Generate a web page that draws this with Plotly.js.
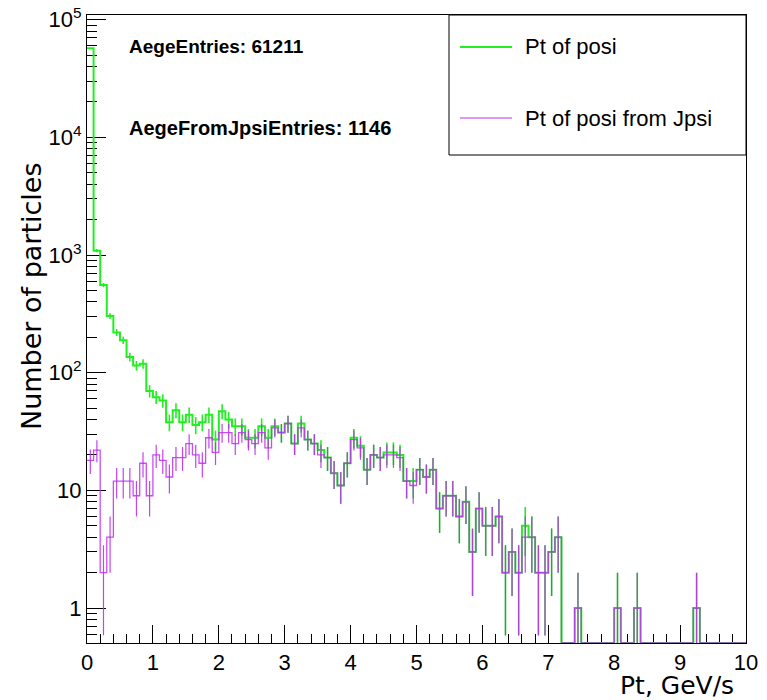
<!DOCTYPE html>
<html>
<head>
<meta charset="utf-8">
<script src="https://cdn.plot.ly/plotly-3.0.1.min.js"></script>
<style>
  html, body { margin: 0; padding: 0; background: #ffffff; }
  #chart { width: 767px; height: 700px; }
</style>
</head>
<body>
<div id="chart"></div>
<script>
// ---- histogram binning (Pt, GeV/s) ----
const xLow = 0;
const xHigh = 10;
const nBins = 100;

// ---- counts per 0.1 GeV/s bin ----
const ptPosi = [
  57070, 1090, 556, 303, 220, 189, 136, 115, 119, 70,
  62, 58, 38, 48, 38, 44, 36, 38, 44, 27,
  47, 40, 35, 35, 28, 28, 35, 28, 35, 31,
  37, 25, 37, 27, 25, 22, 19, 14, 11, 17,
  28, 24, 15, 20, 19, 21, 21, 20, 12, 12,
  15, 13, 15, 7, 9, 9, 6, 8, 3, 7,
  5, 5, 6, 2, 3, 2, 5, 4, 2, 2,
  3, 4, 0, 0, 1, 0, 0, 0, 0, 0,
  1, 0, 0, 1, 0, 0, 0, 0, 0, 0,
  0, 0, 1, 0, 0, 0, 0, 0, 0, 0
];
const ptPosiFromJpsi = [
  18, 22, 2, 4, 12, 12, 12, 9, 17, 9,
  20, 18, 13, 19, 19, 25, 20, 17, 28, 21,
  31, 31, 25, 31, 27, 25, 31, 23, 34, 31,
  37, 25, 34, 27, 25, 20, 19, 14, 11, 17,
  27, 23, 15, 20, 19, 20, 20, 19, 12, 11,
  15, 13, 15, 7, 9, 9, 6, 8, 3, 7,
  5, 5, 6, 2, 3, 2, 4, 4, 2, 2,
  3, 4, 0, 0, 1, 0, 0, 0, 0, 0,
  1, 0, 0, 1, 0, 0, 0, 0, 0, 0,
  0, 0, 1, 0, 0, 0, 0, 0, 0, 0
];
const seriesNames = ["Pt of posi", "Pt of posi from Jpsi"];
const statLabels = ["AegeEntries: 61211", "AegeFromJpsiEntries: 1146"];
const yTickVals = [1, 10, 100, 1000, 10000, 100000];
const yTickText = ["1", "10", "10<sup>2</sup>", "10<sup>3</sup>", "10<sup>4</sup>", "10<sup>5</sup>"];
const xTickVals = [0, 1, 2, 3, 4, 5, 6, 7, 8, 9, 10];

// ---- style ----
const GREEN = "#22ee22";
const MAGENTA = "#bf2ff0";
const FONT = "Liberation Sans, Arial, Helvetica, sans-serif";
const yRangeLog = [-0.297, 5.04];
const yFloor = Math.pow(10, yRangeLog[0]);

// derived geometry from binning
const bw = (xHigh - xLow) / nBins;
const edges = [];
for (let i = 0; i <= nBins; i++) edges.push(+(xLow + i * bw).toFixed(6));
const centers = [];
for (let i = 0; i < nBins; i++) centers.push(+(xLow + (i + 0.5) * bw).toFixed(6));

function stepY(counts) {
  const ys = counts.map(v => (v > 0 ? v : yFloor));
  ys.push(ys[ys.length - 1]);
  return ys;
}
function errPts(counts) {
  return counts.map(v => (v > 0 ? v : null));
}
function errArr(counts) {
  return counts.map(v => Math.sqrt(v));
}

const traces = [
  {
    x: edges, y: stepY(ptPosi), type: "scatter", mode: "lines",
    line: { shape: "hv", color: GREEN, width: 2 }, name: seriesNames[0],
    hoverinfo: "skip"
  },
  {
    x: centers, y: errPts(ptPosi), type: "scatter", mode: "markers",
    marker: { size: 1, color: GREEN },
    error_y: { type: "data", array: errArr(ptPosi), visible: true, width: 0, thickness: 1.6, color: GREEN },
    showlegend: false, hoverinfo: "skip"
  },
  {
    x: edges, y: stepY(ptPosiFromJpsi), type: "scatter", mode: "lines",
    line: { shape: "hv", color: MAGENTA, width: 1.3 }, opacity: 0.85, name: seriesNames[1],
    hoverinfo: "skip"
  },
  {
    x: centers, y: errPts(ptPosiFromJpsi), type: "scatter", mode: "markers",
    marker: { size: 1, color: MAGENTA }, opacity: 0.9,
    error_y: { type: "data", array: errArr(ptPosiFromJpsi), visible: true, width: 0, thickness: 1.2, color: MAGENTA },
    showlegend: false, hoverinfo: "skip"
  }
];

// minor tick positions
const yMinor = [];
for (let d = -1; d <= 4; d++) {
  for (let k = 2; k <= 9; k++) {
    const v = k * Math.pow(10, d);
    if (Math.log10(v) > yRangeLog[0] && Math.log10(v) < yRangeLog[1]) yMinor.push(+v.toPrecision(3));
  }
}
const xMinor = [];
for (let i = 0; i <= 50; i++) {
  const v = +(i * 0.2).toFixed(4);
  if (Math.abs(v - Math.round(v)) > 1e-6) xMinor.push(v);
}

// pixel helpers for decorations (plot area 87..746 x 15..643)
const L = 87, R = 746, T = 15, B = 643;
const px = p => (p - L) / (R - L);
const py = p => (B - p) / (B - T);

const layout = {
  width: 767, height: 700,
  margin: { l: L, r: 767 - R, t: T, b: 700 - B, pad: 0 },
  paper_bgcolor: "#ffffff", plot_bgcolor: "#ffffff",
  showlegend: false,
  font: { family: FONT, color: "#000000", size: 22 },
  xaxis: {
    type: "linear", range: [xLow, xHigh], autorange: false,
    showgrid: false, zeroline: false,
    showline: true, linecolor: "#000000", linewidth: 1, mirror: true,
    ticks: "inside", ticklen: 18, tickwidth: 1, tickcolor: "#000000",
    tickmode: "array", tickvals: xTickVals, ticktext: xTickVals.map(String),
    tickfont: { family: FONT, size: 22, color: "#000000" },
    minor: { tickmode: "array", tickvals: xMinor, ticks: "inside", ticklen: 9, tickwidth: 1, tickcolor: "#000000", showgrid: false },
    layer: "below traces"
  },
  yaxis: {
    type: "log", range: yRangeLog, autorange: false,
    showgrid: false, zeroline: false,
    showline: true, linecolor: "#000000", linewidth: 1, mirror: true,
    ticks: "inside", ticklen: 19, tickwidth: 1, tickcolor: "#000000",
    tickmode: "array", tickvals: yTickVals, ticktext: yTickText,
    tickfont: { family: FONT, size: 22, color: "#000000" },
    minor: { tickmode: "array", tickvals: yMinor, ticks: "inside", ticklen: 10, tickwidth: 1, tickcolor: "#000000", showgrid: false },
    layer: "below traces"
  },
  shapes: [
    { type: "rect", xref: "paper", yref: "paper", x0: px(449), x1: px(746), y0: py(155), y1: py(15),
      line: { color: "#000000", width: 1 }, fillcolor: "#ffffff", layer: "above" },
    { type: "line", xref: "paper", yref: "paper", x0: px(460), x1: px(512), y0: py(47), y1: py(47),
      line: { color: GREEN, width: 2 }, layer: "above" },
    { type: "line", xref: "paper", yref: "paper", x0: px(460), x1: px(512), y0: py(118), y1: py(118),
      line: { color: MAGENTA, width: 1 }, layer: "above" }
  ],
  annotations: [
    { xref: "paper", yref: "paper", x: px(523), y: py(47), xanchor: "left", yanchor: "middle",
      text: seriesNames[0], showarrow: false, font: { family: FONT, size: 22, color: "#000" } },
    { xref: "paper", yref: "paper", x: px(523), y: py(118), xanchor: "left", yanchor: "middle",
      text: seriesNames[1], showarrow: false, font: { family: FONT, size: 22, color: "#000" } },
    { xref: "paper", yref: "paper", x: px(127), y: py(47), xanchor: "left", yanchor: "middle",
      text: "<b>" + statLabels[0] + "</b>", showarrow: false, font: { family: FONT, size: 19, color: "#000" } },
    { xref: "paper", yref: "paper", x: px(127), y: py(128), xanchor: "left", yanchor: "middle",
      text: "<b>" + statLabels[1] + "</b>", showarrow: false, font: { family: FONT, size: 20, color: "#000" } },
    { xref: "paper", yref: "paper", x: px(736), y: py(685), xanchor: "right", yanchor: "middle",
      text: "Pt, GeV/s", showarrow: false, font: { family: "DejaVu Sans, sans-serif", size: 25, color: "#000" } },
    { xref: "paper", yref: "paper", x: px(31), y: py(296), xanchor: "center", yanchor: "middle", textangle: -90,
      text: "Number of particles", showarrow: false, font: { family: "DejaVu Sans, sans-serif", size: 27, color: "#000" } }
  ]
};

Plotly.newPlot("chart", traces, layout, { staticPlot: true, displayModeBar: false });
</script>
</body>
</html>
